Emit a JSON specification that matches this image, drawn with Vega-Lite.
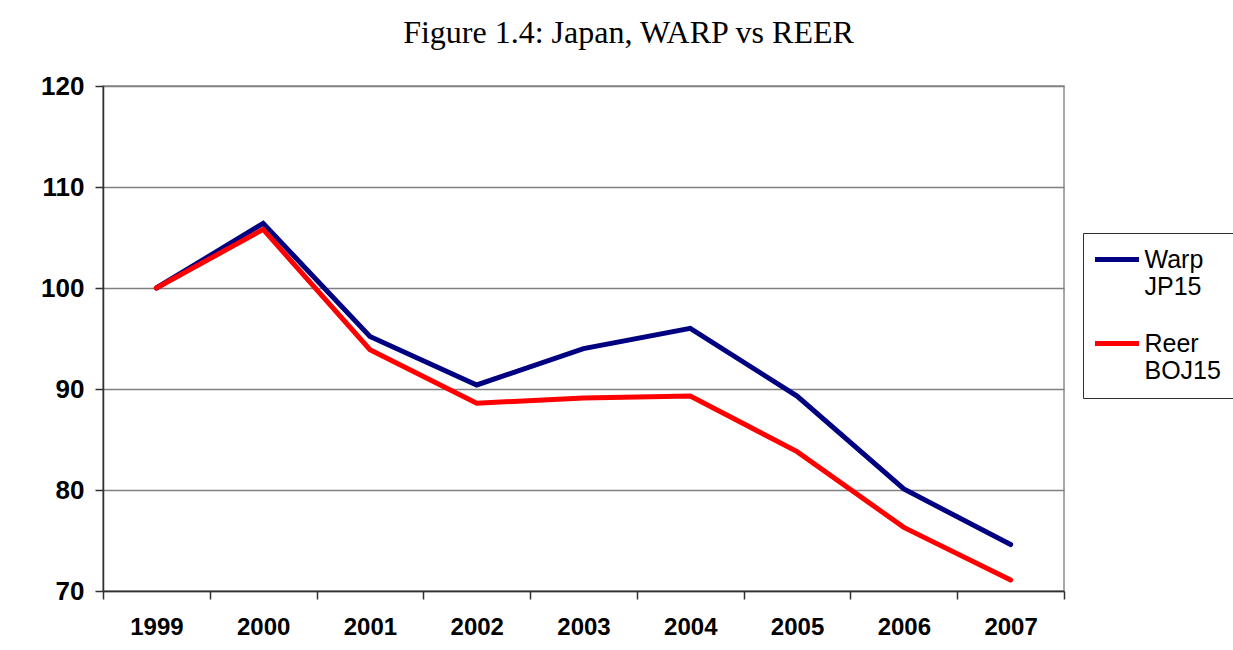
{
  "$schema": "https://vega.github.io/schema/vega-lite/v6.json",
  "width": 961,
  "height": 505,
  "autosize": {"type": "none"},
  "padding": {"left": 103, "top": 86, "right": 169, "bottom": 59},
  "background": "white",
  "title": {
    "text": "Figure 1.4: Japan, WARP vs REER",
    "font": "Liberation Serif",
    "fontSize": 32,
    "fontWeight": "normal",
    "color": "black",
    "anchor": "middle",
    "frame": "group",
    "dx": 45,
    "offset": 23
  },
  "data": {
    "values": [
      {"year": "1999", "series": "Warp JP15", "value": 100.0},
      {"year": "2000", "series": "Warp JP15", "value": 106.4},
      {"year": "2001", "series": "Warp JP15", "value": 95.2},
      {"year": "2002", "series": "Warp JP15", "value": 90.4},
      {"year": "2003", "series": "Warp JP15", "value": 94.0},
      {"year": "2004", "series": "Warp JP15", "value": 96.0},
      {"year": "2005", "series": "Warp JP15", "value": 89.3},
      {"year": "2006", "series": "Warp JP15", "value": 80.1},
      {"year": "2007", "series": "Warp JP15", "value": 74.6},
      {"year": "1999", "series": "Reer BOJ15", "value": 100.0},
      {"year": "2000", "series": "Reer BOJ15", "value": 105.8},
      {"year": "2001", "series": "Reer BOJ15", "value": 93.9},
      {"year": "2002", "series": "Reer BOJ15", "value": 88.6},
      {"year": "2003", "series": "Reer BOJ15", "value": 89.1},
      {"year": "2004", "series": "Reer BOJ15", "value": 89.3},
      {"year": "2005", "series": "Reer BOJ15", "value": 83.8},
      {"year": "2006", "series": "Reer BOJ15", "value": 76.3},
      {"year": "2007", "series": "Reer BOJ15", "value": 71.1}
    ]
  },
  "mark": {"type": "line", "strokeWidth": 5, "strokeCap": "round", "strokeJoin": "miter"},
  "encoding": {
    "x": {
      "field": "year",
      "type": "ordinal",
      "bandPosition": 0.5,
      "scale": {"type": "band", "paddingInner": 0, "paddingOuter": 0},
      "axis": {
        "title": null,
        "labelAngle": 0,
        "labelFont": "Liberation Sans",
        "labelFontSize": 24,
        "labelFontWeight": "bold",
        "labelColor": "black",
        "labelPadding": 16,
        "tickBand": "extent",
        "tickSize": 8,
        "tickColor": "#303030",
        "tickWidth": 1.5,
        "domainColor": "#303030",
        "domainWidth": 1.5,
        "grid": false
      }
    },
    "y": {
      "field": "value",
      "type": "quantitative",
      "scale": {"domain": [70, 120], "nice": false, "zero": false},
      "axis": {
        "title": null,
        "values": [70, 80, 90, 100, 110, 120],
        "labelFont": "Liberation Sans",
        "labelFontSize": 26,
        "labelFontWeight": "bold",
        "labelColor": "black",
        "labelPadding": 11,
        "tickSize": 8,
        "tickColor": "#303030",
        "tickWidth": 1.5,
        "domainColor": "#303030",
        "domainWidth": 1.5,
        "grid": true,
        "gridColor": "#808080",
        "gridWidth": 1.5
      }
    },
    "color": {
      "field": "series",
      "type": "nominal",
      "sort": ["Warp JP15", "Reer BOJ15"],
      "scale": {"domain": ["Warp JP15", "Reer BOJ15"], "range": ["#000080", "#ff0000"]},
      "legend": {
        "title": null,
        "orient": "none",
        "legendX": 980,
        "legendY": 147,
        "symbolType": "M-2.75,0H2.75",
        "symbolSize": 256,
        "symbolStrokeWidth": 5,
        "symbolOffset": 7.5,
        "labelFont": "Liberation Sans",
        "labelFontSize": 25,
        "labelColor": "black",
        "labelExpr": "split(datum.label, ' ')",
        "labelLimit": 300,
        "labelOffset": 15,
        "strokeColor": "#303030",
        "fillColor": "white",
        "padding": 14,
        "rowPadding": 31
      }
    }
  },
  "config": {"view": {"stroke": "#8c8c8c", "strokeWidth": 1.5}}
}
